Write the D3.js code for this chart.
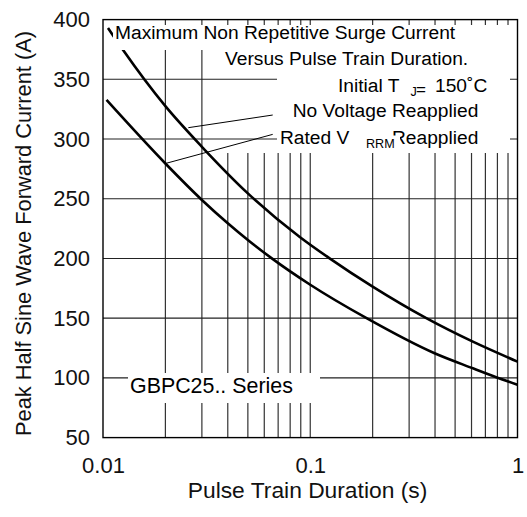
<!DOCTYPE html>
<html>
<head>
<meta charset="utf-8">
<script src="https://cdn.jsdelivr.net/npm/d3@7"></script>
<style>
  html, body { margin: 0; padding: 0; background: #fff; }
  svg { display: block; font-family: "Liberation Sans", Arial, Helvetica, sans-serif; }
</style>
</head>
<body>
<svg id="chart" width="527" height="517"></svg>
<script>
// ---- data ----
const xTickValues = [0.01, 0.1, 1];
const xTickLabels = ["0.01", "0.1", "1"];
const yTickValues = [50, 100, 150, 200, 250, 300, 350, 400];
const xGridValues = [0.02,0.03,0.04,0.05,0.06,0.07,0.08,0.09,0.1,0.2,0.3,0.4,0.5,0.6,0.7,0.8,0.9];

// No Voltage Reapplied (upper curve)
const noVoltageT = [0.01057, 0.0125, 0.02, 0.03, 0.05, 0.089, 0.124, 0.2, 0.363, 0.609, 1];
const noVoltageI = [393, 374.5, 327.5, 293.5, 254.5, 218, 200.1, 176.4, 150, 130.3, 113.6];

// Rated VRRM Reapplied (lower curve)
const ratedT = [0.0104, 0.02, 0.03, 0.04, 0.05, 0.065, 0.1, 0.187, 0.398, 0.609, 0.789, 1];
const ratedI = [332.7, 279.5, 249, 229.5, 215.5, 200.3, 178, 150, 120.6, 108, 100.6, 94.3];

// leader lines (start on curve, end at label), in data units
const leaderUpperT = [0.0258, 0.0659];
const leaderUpperI = [309.5, 320.1];
const leaderLowerT = [0.02, 0.0659];
const leaderLowerI = [279.5, 303.9];

(function () {
// ---- layout ----
const svg = d3.select("#chart");
const pLeft = 103, pRight = 517.5, pTop = 19.6, pBottom = 437.6;
const x = d3.scaleLog().domain([0.01, 1]).range([pLeft, pRight]);
const y = d3.scaleLinear().domain([50, 400]).range([pBottom, pTop]);

// vertical grid
const grid = svg.append("g");
grid.selectAll("line.v").data(xGridValues).join("line").attr("class", "v")
  .attr("x1", d => x(d)).attr("x2", d => x(d))
  .attr("y1", pTop).attr("y2", pBottom)
  .attr("stroke", "#333").attr("stroke-width", 1.2);
// background of the "Versus..." line hides verticals only
svg.append("rect").attr("x", 212).attr("y", 49).attr("width", 66).attr("height", 104).attr("fill", "#fff");
// horizontal grid
svg.append("g").selectAll("line.h").data(yTickValues.slice(1, -1)).join("line").attr("class", "h")
  .attr("x1", pLeft).attr("x2", pRight)
  .attr("y1", d => y(d)).attr("y2", d => y(d))
  .attr("stroke", "#222").attr("stroke-width", 1.1);

// curves
const line = d3.line().x(d => x(d[0])).y(d => y(d[1])).curve(d3.curveMonotoneX);
const upper = noVoltageT.map((t, i) => [t, noVoltageI[i]]);
const lower = ratedT.map((t, i) => [t, ratedI[i]]);
svg.append("path").attr("d", line(upper)).attr("fill", "none")
  .attr("stroke", "#000").attr("stroke-width", 2.6);
svg.append("path").attr("d", line(lower)).attr("fill", "none")
  .attr("stroke", "#000").attr("stroke-width", 2.6);

// leader lines
const straight = d3.line().x(d => x(d[0])).y(d => y(d[1]));
svg.append("path").attr("d", straight(leaderUpperT.map((t, i) => [t, leaderUpperI[i]])))
  .attr("stroke", "#000").attr("stroke-width", 1).attr("fill", "none");
svg.append("path").attr("d", straight(leaderLowerT.map((t, i) => [t, leaderLowerI[i]])))
  .attr("stroke", "#000").attr("stroke-width", 1).attr("fill", "none");

// white label backgrounds
svg.append("rect").attr("x", 113).attr("y", 25).attr("width", 397).attr("height", 25).attr("fill", "#fff");
svg.append("rect").attr("x", 277).attr("y", 49).attr("width", 233).attr("height", 104).attr("fill", "#fff");
svg.append("rect").attr("x", 128).attr("y", 373).attr("width", 192).attr("height", 30).attr("fill", "#fff");

// annotation texts
const ann = svg.append("g").attr("fill", "#000").attr("font-size", 19.2);
ann.append("text").attr("x", 115).attr("y", 39.3).text("Maximum Non Repetitive Surge Current");
ann.append("text").attr("x", 225).attr("y", 65).text("Versus Pulse Train Duration.");
ann.append("text").attr("x", 338).attr("y", 92).text("Initial T");
ann.append("text").attr("x", 410.5).attr("y", 96).attr("font-size", 12.6).text("J");
ann.append("text").attr("x", 416).attr("y", 95).attr("font-size", 17).text("=");
ann.append("text").attr("x", 435).attr("y", 92).text("150˚C");
ann.append("text").attr("x", 292.7).attr("y", 117.3).text("No Voltage Reapplied");
ann.append("text").attr("x", 280).attr("y", 144).text("Rated V");
ann.append("text").attr("x", 392).attr("y", 144).text("Reapplied");
svg.append("rect").attr("x", 364).attr("y", 135.5).attr("width", 36).attr("height", 15.5).attr("fill", "#fff");
svg.append("text").attr("x", 366).attr("y", 148.3).attr("font-size", 12.6).text("RRM");
svg.append("text").attr("x", 130).attr("y", 393.3).attr("font-size", 21.4).text("GBPC25.. Series");

// frame
svg.append("rect").attr("x", pLeft).attr("y", pTop).attr("width", pRight - pLeft).attr("height", pBottom - pTop)
  .attr("fill", "none").attr("stroke", "#000").attr("stroke-width", 1.4);

// axes
const yAxis = svg.append("g").attr("transform", `translate(${pLeft},0)`)
  .call(d3.axisLeft(y).tickValues(yTickValues).tickSize(0).tickPadding(13).tickFormat(d3.format("d")));
const xAxis = svg.append("g").attr("transform", `translate(0,${pBottom})`)
  .call(d3.axisBottom(x).tickValues(xTickValues).tickSize(0).tickPadding(20)
    .tickFormat((d, i) => xTickLabels[i]));
[yAxis, xAxis].forEach(a => {
  a.select(".domain").remove();
  a.selectAll("text").attr("font-size", 22).attr("fill", "#111")
    .attr("font-family", "'Liberation Sans', Arial, Helvetica, sans-serif");
});

// axis titles
svg.append("text").attr("x", 307.5).attr("y", 498).attr("text-anchor", "middle")
  .attr("font-size", 22.8).attr("fill", "#111").text("Pulse Train Duration (s)");
svg.append("text").attr("transform", "translate(30.7,233.5) rotate(-90)").attr("text-anchor", "middle")
  .attr("font-size", 21.8).attr("fill", "#111").text("Peak Half Sine Wave Forward Current (A)");
})();
</script>
</body>
</html>
